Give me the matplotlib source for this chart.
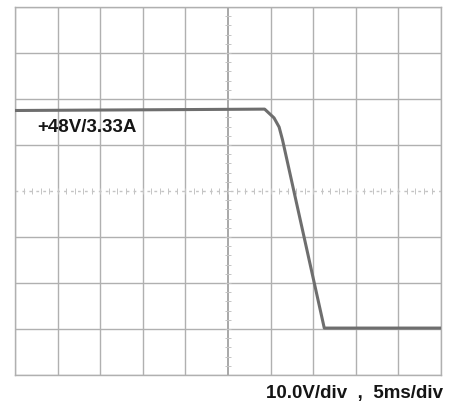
import numpy as np
import matplotlib
matplotlib.use("Agg")
import matplotlib.pyplot as plt

# Trace (time in ms, voltage in V)
time_ms = [0.0, 10.0, 20.0, 29.3, 30.4, 31.0, 31.4, 36.3, 40.0, 45.0, 49.9]
volts   = [47.5, 47.6, 47.7, 47.8, 45.9, 43.9, 41.1, 0.2, 0.2, 0.2, 0.2]

label_trace = "+48V/3.33A"
label_scale = "10.0V/div  ,  5ms/div"

x_ticks = np.arange(0, 51, 5)
y_ticks = np.arange(-10, 71, 10)

plt.rcParams['font.family'] = ['Liberation Sans', 'DejaVu Sans']

fig = plt.figure(figsize=(4.49, 4.03), dpi=100)
W, H = 449, 403
ax = fig.add_axes([15 / W, (H - 375) / H, (441 - 15) / W, (375 - 7) / H])
ax.set_xlim(0, 50)
ax.set_ylim(-10, 70)

grid_c = "#b0b0b0"
for xv in x_ticks:
    if xv == 25:
        continue
    ax.axvline(xv, color=grid_c, lw=1.0, zorder=1)
for yv in y_ticks:
    if yv == 30:
        continue
    ax.axhline(yv, color=grid_c, lw=1.0, zorder=1)

# centre graticule lines
ax.axvline(25, color="#9a9a9a", lw=1.2, zorder=1)
ax.axhline(30, color="#c4c4c4", lw=1.0, ls=(0, (2, 3)), zorder=1)
minor_y = np.arange(-10, 70.01, 2)
ax.plot(np.full(minor_y.shape, 25.0), minor_y, ls='none', marker='_',
        ms=4, mew=0.7, color="#c4c4c4", zorder=1)
minor_x = np.arange(0, 50.01, 1)
ax.plot(minor_x, np.full(minor_x.shape, 30.0), ls='none', marker='|',
        ms=4, mew=0.7, color="#c4c4c4", zorder=1)

for s in ax.spines.values():
    s.set_color(grid_c)
    s.set_linewidth(1.0)
ax.set_xticks([])
ax.set_yticks([])

ax.plot(time_ms, volts, color="#6e6e6e", lw=2.2, solid_joinstyle='round', zorder=3)

ax.text(2.6, 43.9, label_trace, fontsize=13.5, fontweight='bold',
        color="#151515", ha='left', va='center', zorder=4)

fig.text(443 / W, 1 - 398 / H, label_scale, fontsize=13.5, fontweight='bold',
         color="#151515", ha='right', va='baseline')

fig.savefig("out.png", dpi=100, facecolor="white")
